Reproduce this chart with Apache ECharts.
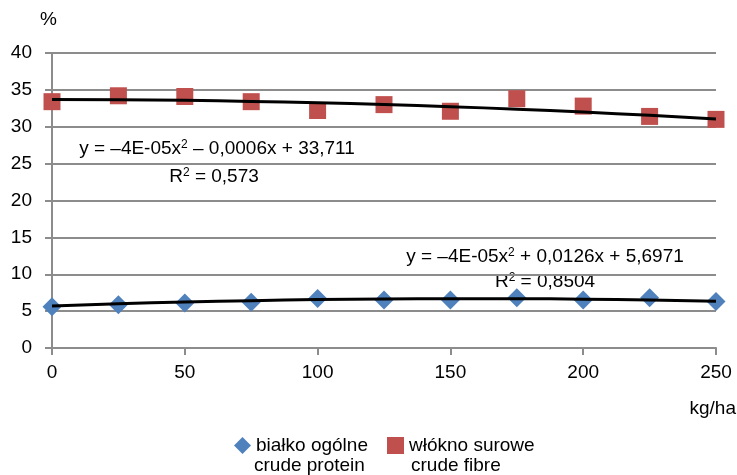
<!DOCTYPE html>
<html>
<head>
<meta charset="utf-8">
<script src="https://cdn.jsdelivr.net/npm/echarts@6/dist/echarts.min.js"></script>
<style>
  html, body { margin: 0; padding: 0; background: #fff; }
  #chart { width: 737px; height: 475px; }
</style>
</head>
<body>
<div id="chart"></div>
<script>
// dawka N kg/ha
var doses = [0, 25, 50, 75, 100, 125, 150, 175, 200, 225, 250];
// białko ogólne / crude protein
var protein = [5.6, 5.85, 6.1, 6.2, 6.7, 6.5, 6.5, 6.8, 6.5, 6.8, 6.3];
// włókno surowe / crude fibre
var fibre = [33.4, 34.2, 34.1, 33.4, 32.2, 33.0, 32.1, 33.8, 32.8, 31.4, 31.0];
// linie trendu
var proteinTrend = [5.70, 5.99, 6.23, 6.42, 6.56, 6.65, 6.69, 6.68, 6.62, 6.51, 6.35];
var fibreTrend = [33.71, 33.67, 33.58, 33.44, 33.25, 33.01, 32.72, 32.38, 31.99, 31.55, 31.06];

function pairs(ys) {
  return doses.map(function (x, i) { return [x, ys[i]]; });
}

var font = 'Liberation Sans, Arial, sans-serif';
var fs = 19;
var chart = echarts.init(document.getElementById('chart'));

var supRich = {
  n: { fontSize: fs, fontFamily: font, color: '#000' },
  s: { fontSize: 12, fontFamily: font, color: '#000', verticalAlign: 'top', padding: [0, 0, 9, 0] }
};

function label(x, y, text, align) {
  return {
    type: 'text', x: x, y: y,
    style: { text: text, rich: supRich, fontSize: fs, fontFamily: font, fill: '#000', align: align || 'left', verticalAlign: 'middle' }
  };
}

var option = {
  animation: false,
  grid: { left: 52, right: 21, top: 53, bottom: 127 },
  xAxis: {
    type: 'value',
    min: 0,
    max: 250,
    interval: 50,
    axisLine: { lineStyle: { color: '#8c8c8c', width: 2 } },
    axisTick: { show: true, length: 7, lineStyle: { color: '#8c8c8c', width: 2 } },
    axisLabel: { color: '#000', fontSize: fs, fontFamily: font, margin: 15 },
    splitLine: { show: false }
  },
  yAxis: {
    type: 'value',
    min: 0,
    max: 40,
    interval: 5,
    axisLine: { show: true, lineStyle: { color: '#8c8c8c', width: 2 } },
    axisTick: { show: true, length: 7, lineStyle: { color: '#8c8c8c', width: 2 } },
    axisLabel: { color: '#000', fontSize: fs, fontFamily: font, margin: 20 },
    splitLine: { show: true, lineStyle: { color: '#8c8c8c', width: 2 } }
  },
  legend: {
    left: 229,
    top: 431,
    itemGap: 19,
    itemWidth: 17,
    itemHeight: 17,
    textStyle: { fontSize: fs, fontFamily: font, color: '#000' },
    data: [
      { name: 'białko ogólne', icon: 'diamond' },
      { name: 'włókno surowe', icon: 'rect' }
    ]
  },
  graphic: [
    label(40, 20, '%'),
    label(736, 409, 'kg/ha', 'right'),
    label(254, 466, 'crude protein'),
    label(411, 466, 'crude fibre'),
    label(217, 149, '{n|y = –4E-05x}{s|2}{n| – 0,0006x + 33,711}', 'center'),
    label(214, 177, '{n|R}{s|2}{n| = 0,573}', 'center'),
    label(545, 257, '{n|y = –4E-05x}{s|2}{n| + 0,0126x + 5,6971}', 'center'),
    label(545, 282, '{n|R}{s|2}{n| = 0,8504}', 'center')
  ],
  series: [
    {
      name: 'białko ogólne',
      type: 'scatter',
      symbol: 'diamond',
      symbolSize: 19,
      itemStyle: { color: '#4F81BD', opacity: 1 },
      data: pairs(protein),
      z: 2
    },
    {
      name: 'włókno surowe',
      type: 'scatter',
      symbol: 'rect',
      symbolSize: 17,
      itemStyle: { color: '#C0504D', opacity: 1 },
      data: pairs(fibre),
      z: 2
    },
    {
      name: 'trend protein',
      type: 'line',
      smooth: true,
      symbol: 'none',
      lineStyle: { color: '#000', width: 3 },
      data: pairs(proteinTrend),
      z: 3
    },
    {
      name: 'trend fibre',
      type: 'line',
      smooth: true,
      symbol: 'none',
      lineStyle: { color: '#000', width: 3 },
      data: pairs(fibreTrend),
      z: 3
    }
  ]
};

chart.setOption(option);
</script>
</body>
</html>
